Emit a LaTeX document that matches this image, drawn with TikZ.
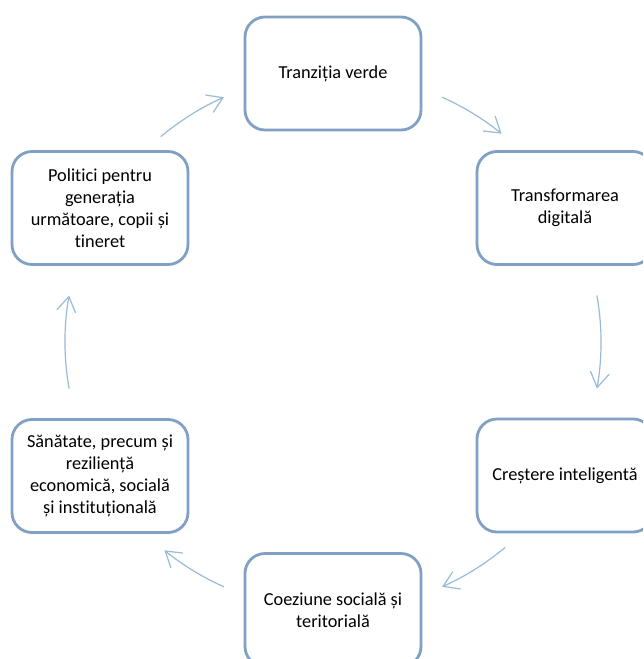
\documentclass[tikz,border=0pt]{standalone}
\usepackage{fontspec}
\setmainfont{Carlito}[Ligatures={NoCommon,NoRare}]
\usetikzlibrary{arrows.meta}
\definecolor{boxline}{RGB}{128,161,196}
\definecolor{arrowline}{RGB}{152,187,218}
\tikzset{
  cyclebox/.style={draw=boxline, line width=2.8pt, rounded corners=20pt, fill=white,
    minimum width=176pt, minimum height=113pt, align=center,
    font=\fontsize{18.3pt}{22pt}\selectfont, text=black, inner sep=2pt},
  cyclearrow/.style={draw=arrowline, line width=1.2pt,
    -{Straight Barb[length=15pt,width=19pt,line width=1.2pt]}}
}
\begin{document}
\begin{tikzpicture}[x=1pt,y=1pt]
\useasboundingbox (0,0) rectangle (643,-659);
\clip (0,0) rectangle (643,-659);
\fill[white] (0,0) rectangle (643,-659);
\coordinate (c) at (333,-342);
\node[cyclebox] (verde) at (333,-73.5) {Tranziția verde};
\node[cyclebox] (digital) at (565,-208) {Transformarea\\digitală};
\node[cyclebox] (crestere) at (565,-475.5) {Creștere inteligentă};
\node[cyclebox] (coeziune) at (333,-610) {Coeziune socială și\\teritorială};
\node[cyclebox] (sanatate) at (100,-476) {Sănătate, precum și\\reziliență\\economică, socială\\și instituțională};
\node[cyclebox] (politici) at (100,-208) {Politici pentru\\generația\\următoare, copii și\\tineret};
\draw[cyclearrow] ([shift={(66:268pt)}]c) arc[start angle=66,end angle=51,radius=268pt];
\draw[cyclearrow] ([shift={(10:268pt)}]c) arc[start angle=10,end angle=-10,radius=268pt];
\draw[cyclearrow] ([shift={(-50:268pt)}]c) arc[start angle=-50,end angle=-66,radius=268pt];
\draw[cyclearrow] ([shift={(-114:268pt)}]c) arc[start angle=-114,end angle=-129,radius=268pt];
\draw[cyclearrow] ([shift={(190:268pt)}]c) arc[start angle=190,end angle=170,radius=268pt];
\draw[cyclearrow] ([shift={(130:268pt)}]c) arc[start angle=130,end angle=114,radius=268pt];
\end{tikzpicture}
\end{document}
